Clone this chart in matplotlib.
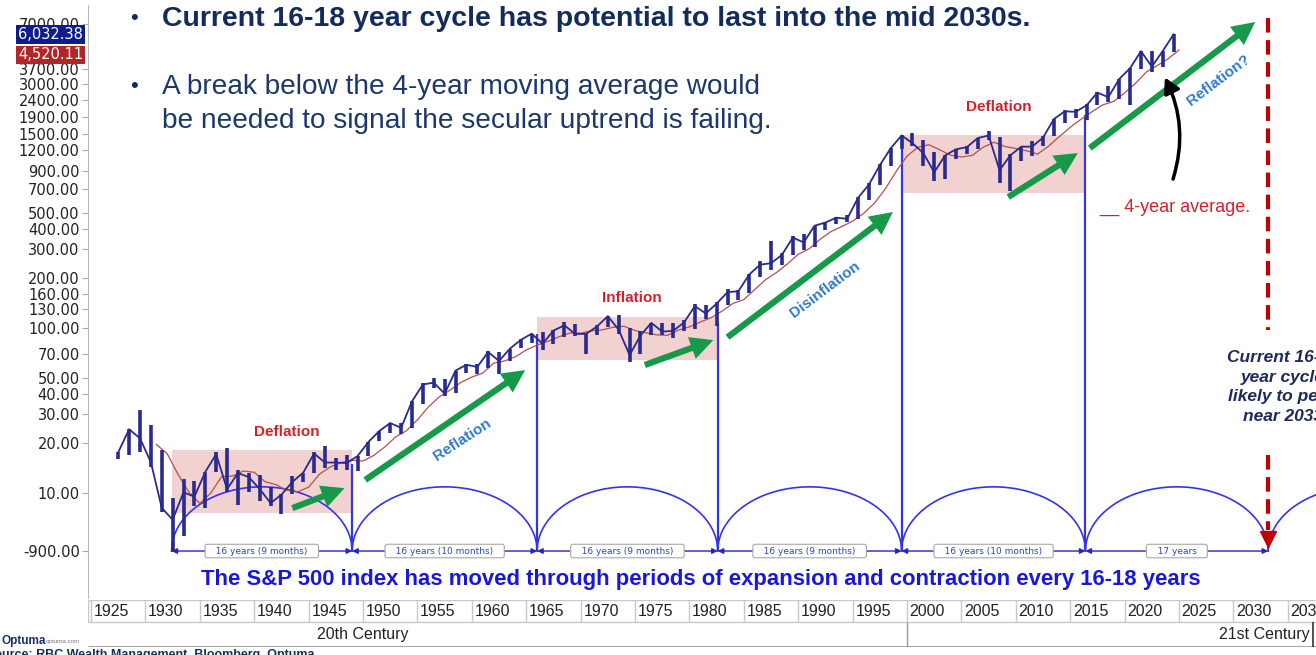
import numpy as np
import pandas as pd
import matplotlib
matplotlib.use("Agg")
import matplotlib.pyplot as plt
import matplotlib.transforms as mtransforms
from matplotlib.patches import Rectangle
from matplotlib.ticker import NullLocator, NullFormatter

# S&P 500 yearly high / low / close (1927 .. Nov 2024)
years = np.arange(1927, 2025)
high = [17.7, 24.4, 31.9, 25.9, 18.2, 9.3, 12.2, 11.8, 13.5, 17.7,
        18.7, 13.8, 13.2, 12.8, 10.9, 9.8, 12.6, 13.3, 17.7, 19.3,
        16.2, 17.1, 16.8, 20.4, 23.9, 26.6, 26.7, 36.0, 46.4, 49.7,
        49.1, 55.2, 60.7, 60.4, 72.6, 71.1, 75.0, 86.3, 92.6, 94.1,
        97.6, 108.4, 106.2, 93.5, 104.8, 119.1, 120.2, 99.8, 95.6, 107.8,
        107.0, 107.0, 111.3, 140.5, 138.1, 143.0, 172.7, 170.4, 212.0, 254.0,
        336.8, 283.7, 359.8, 369.0, 417.1, 441.3, 470.9, 482.0, 621.7, 757.0,
        983.8, 1241.8, 1469.3, 1527.5, 1373.7, 1172.5, 1111.9, 1213.5, 1272.7, 1427.1,
        1565.2, 1447.2, 1127.8, 1259.8, 1363.6, 1465.8, 1848.4, 2090.6, 2130.8, 2271.7,
        2690.2, 2930.8, 3240.0, 3756.1, 4793.1, 4796.6, 4783.4, 6049.0]
low = [16.0, 16.9, 17.7, 14.4, 7.7, 4.4, 5.5, 8.4, 8.1, 13.4,
       10.2, 8.5, 10.2, 9.0, 8.4, 7.5, 9.8, 11.6, 13.2, 14.1,
       13.7, 13.8, 13.6, 16.7, 20.7, 23.1, 22.7, 24.8, 34.6, 43.1,
       39.0, 40.3, 53.6, 52.3, 57.6, 52.3, 62.7, 75.4, 81.6, 73.2,
       80.4, 87.7, 89.2, 69.3, 90.2, 101.7, 92.2, 62.3, 70.0, 90.9,
       90.7, 86.9, 96.1, 98.2, 112.8, 102.4, 138.3, 147.8, 163.7, 203.5,
       223.9, 242.6, 275.3, 295.5, 311.5, 394.5, 429.1, 438.9, 459.1, 598.5,
       737.0, 957.3, 1212.2, 1264.7, 965.8, 776.8, 800.7, 1063.2, 1137.5, 1223.7,
       1374.1, 752.4, 676.5, 1022.6, 1099.2, 1277.1, 1457.2, 1741.9, 1867.6, 1829.1,
       2257.8, 2351.1, 2447.9, 2237.4, 3700.7, 3577.0, 3808.1, 4688.7]
close = [17.66, 24.35, 21.45, 15.34, 8.12, 6.89, 10.10, 9.50, 13.43, 17.18,
         10.55, 13.21, 12.49, 10.58, 8.69, 9.77, 11.67, 13.28, 17.36, 15.30,
         15.30, 15.20, 16.76, 20.41, 23.77, 26.57, 24.81, 35.98, 45.48, 46.67,
         39.99, 55.21, 59.89, 58.11, 71.55, 63.10, 75.02, 84.75, 92.43, 80.33,
         96.47, 103.86, 92.06, 92.15, 102.09, 118.05, 97.55, 68.56, 90.19, 107.46,
         95.10, 96.11, 107.94, 135.76, 122.55, 140.64, 164.93, 167.24, 211.28, 242.17,
         247.08, 277.72, 353.40, 330.22, 417.09, 435.71, 466.45, 459.27, 615.93, 740.74,
         970.43, 1229.23, 1469.25, 1320.28, 1148.08, 879.82, 1111.92, 1211.92, 1248.29, 1418.30,
         1468.36, 903.25, 1115.10, 1257.64, 1257.60, 1426.19, 1848.36, 2058.90, 2043.94, 2238.83,
         2673.61, 2506.85, 3230.78, 3756.07, 4766.18, 3839.50, 4769.83, 6032.38]

last_price = "6,032.38"
last_avg = "4,520.11"

# 16-18 year cycle lows/peaks
cycle_years = [1932.4, 1949.0, 1966.0, 1982.6, 1999.5, 2016.4, 2033.2]
cycle_tops = [4.45, 15.0, 92.0, 108.0, 1460.0, 1950.0]
cycle_labels = ["16 years (9 months)", "16 years (10 months)", "16 years (9 months)",
                "16 years (9 months)", "16 years (10 months)", "17 years"]

phase_start = [1932.4, 1966.0, 1999.5]
phase_end = [1949.0, 1982.6, 2016.4]
phase_low = [7.6, 64.0, 658.0]
phase_high = [18.2, 117.0, 1480.0]
phase_names = ["Deflation", "Inflation", "Deflation"]
phase_label_x = [1943.0, 1974.7, 2008.4]
phase_label_y = [23.4, 152.0, 2183.0]

ytick_vals = [7000, 3700, 3000, 2400, 1900, 1500, 1200, 900, 700, 500, 400, 300,
              200, 160, 130, 100, 70, 50, 40, 30, 20, 10, 4.45]
ytick_text = ["7000.00", "3700.00", "3000.00", "2400.00", "1900.00", "1500.00",
              "1200.00", "900.00", "700.00", "500.00", "400.00", "300.00", "200.00",
              "160.00", "130.00", "100.00", "70.00", "50.00", "40.00", "30.00",
              "20.00", "10.00", "-900.00"]
xtick_years = list(range(1925, 2040, 5))

W, H = 1316, 655
navy = "#2A2A8E"
green = "#17994A"
red_txt = "#D2232A"
blue_txt = "#2E7AD0"
cyc_blue = "#3434E8"

plt.rcParams["font.family"] = ["Liberation Sans", "DejaVu Sans"]

fig = plt.figure(figsize=(W / 100, H / 100), dpi=100)
ax = fig.add_axes([88 / W, 1 - 598 / H, 1228 / W, 593 / H])
ax.set_xlim(1924.72, 2037.59)
ax.set_yscale("log")
ax.set_ylim(2.31, 9080)

for s in ["top", "right", "bottom"]:
    ax.spines[s].set_visible(False)
ax.spines["left"].set_color("#BBBBBB")
ax.set_xticks([])
ax.set_yticks(ytick_vals)
ax.set_yticklabels(ytick_text)
ax.yaxis.set_minor_locator(NullLocator())
ax.yaxis.set_minor_formatter(NullFormatter())
ax.tick_params(axis="y", length=4, color="#AAAAAA", labelsize=10.5,
               labelcolor="#222222", pad=2)
for t in ax.get_yticklabels():
    t.set_family("DejaVu Sans")

# shaded phases
for x0, x1, lo, hi in zip(phase_start, phase_end, phase_low, phase_high):
    ax.add_patch(Rectangle((x0, lo), x1 - x0, hi - lo, facecolor="#E9ADAA",
                           alpha=0.55, edgecolor="none", zorder=1))
for lx, ly, name in zip(phase_label_x, phase_label_y, phase_names):
    ax.text(lx, ly, name, ha="center", va="center",
            fontsize=11, weight="bold", color=red_txt, zorder=5)

# price bars + 4-year average
yr = years + 0.5
ax.vlines(yr, low, high, color=navy, lw=2.6, zorder=4)
ax.plot(yr, close, color=navy, lw=1.3, zorder=4)
ma = pd.Series(close).rolling(4).mean()
ax.plot(years + 1, ma, color="#B0524A", lw=0.9, zorder=3)


# cycle arcs
def arc(x0, x1, base=4.45, peak=10.9):
    xs = np.linspace(x0, x1, 300)
    t = (xs - (x0 + x1) / 2) / ((x1 - x0) / 2)
    ly = np.log10(base) + (np.log10(peak) - np.log10(base)) * np.sqrt(np.clip(1 - t ** 2, 0, None))
    return xs, 10 ** ly


for x0, x1 in zip(cycle_years[:-1], cycle_years[1:]):
    xs, ys = arc(x0, x1)
    ax.plot(xs, ys, color=cyc_blue, lw=1.2, zorder=2)
xs, ys = arc(cycle_years[-1], cycle_years[-1] + 17)
ax.plot(xs, ys, color=cyc_blue, lw=1.2, zorder=2)

ax.vlines(cycle_years[1:6], 4.45, cycle_tops[1:], color=cyc_blue, lw=1.6, zorder=2)

for x0, x1, lab in zip(cycle_years[:-1], cycle_years[1:], cycle_labels):
    ax.annotate("", xy=(x1, 4.45), xytext=(x0, 4.45),
                arrowprops=dict(arrowstyle="<|-|>", color="#2626B8", lw=1.0,
                                mutation_scale=8, shrinkA=0, shrinkB=0), zorder=3)
    ax.text((x0 + x1) / 2, 4.45, "   " + lab + "   ", ha="center", va="center",
            fontsize=6.5, color="#3046B8", family="DejaVu Sans", zorder=4,
            bbox=dict(boxstyle="round,pad=0.25", fc="white", ec="#A8A8A8", lw=0.8))

# projected 2033 cycle end
ax.plot([cycle_years[-1]] * 2, [7570, 97], color="#C00000", lw=3, ls=(0, (3.5, 1.8)), zorder=3)
ax.plot([cycle_years[-1]] * 2, [17, 6.0], color="#C00000", lw=3, ls=(0, (3.5, 1.8)), zorder=3)
ax.plot(cycle_years[-1], 5.26, marker="v", ms=12, color="#C00000", zorder=5)

# green trend arrows
green_arrows = [((1943.5, 8.1), (1948.3, 10.7)), ((1950.2, 12.0), (1964.9, 55.6)),
                ((1975.9, 59.7), (1982.2, 84.5)), ((1983.5, 88.0), (1998.7, 505.0)),
                ((2009.3, 622.0), (2015.7, 1150.0)), ((2016.8, 1233.0), (2032.0, 7160.0))]
for (s, e) in green_arrows:
    ax.annotate("", xy=e, xytext=s,
                arrowprops=dict(arrowstyle="simple,head_length=1.1,head_width=1.1,tail_width=0.3",
                                mutation_scale=15, fc=green, ec="none", shrinkA=0, shrinkB=0),
                zorder=6)

ax.text(1959.1, 20.9, "Reflation", rotation=33, ha="center", va="center",
        fontsize=11, weight="bold", color=blue_txt, zorder=6)
ax.text(1992.5, 170, "Disinflation", rotation=37, ha="center", va="center",
        fontsize=11, weight="bold", color=blue_txt, zorder=6)
ax.text(2028.6, 3185, "Reflation?", rotation=37, ha="center", va="center",
        fontsize=11, weight="bold", color=blue_txt, zorder=6)

ax.text(2017.7, 541, "__ 4-year average.", ha="left", va="center", fontsize=13,
        color=red_txt, zorder=6)
ax.annotate("", xy=(2023.7, 3300), xytext=(2024.45, 800),
            arrowprops=dict(arrowstyle="-|>,head_length=0.9,head_width=0.5", color="black",
                            lw=2.5, connectionstyle="arc3,rad=0.2", shrinkA=0, shrinkB=0),
            zorder=7)

# value flags on the axis
flag = mtransforms.blended_transform_factory(ax.transAxes, ax.transData)
ax.text(-0.004, 6032.38, last_price, transform=flag, ha="right", va="center", fontsize=10.5,
        family="DejaVu Sans", color="white",
        bbox=dict(boxstyle="square,pad=0.12", fc="#101C8A", ec="none"), zorder=8)
ax.text(-0.004, 4520.11, last_avg, transform=flag, ha="right", va="center", fontsize=10.5,
        family="DejaVu Sans", color="white",
        bbox=dict(boxstyle="square,pad=0.12", fc="#B0262B", ec="none"), zorder=8)

# year table below the chart
tab = fig.add_axes([88 / W, 1 - 647 / H, 1228 / W, 47 / H])
tab.set_xlim(ax.get_xlim())
tab.set_ylim(47, 0)
tab.axis("off")
tab.hlines([0, 22], 1924.72, 2037.59, color="#C8C8C8", lw=1)
tab.hlines(47, 1924.72, 2037.59, color="#9A9A9A", lw=2)
tab.vlines(xtick_years, 0, 22, color="#C8C8C8", lw=1)
tab.vlines([1924.75], 0, 22, color="#C8C8C8", lw=1)
tab.vlines([2000], 22, 47, color="#999999", lw=1)
tab.vlines([2037.3], 22, 47, color="#333333", lw=1.2)
for y in xtick_years:
    tab.text(y + 0.25, 11.5, str(y), ha="left", va="center", fontsize=11.5, color="#222222",
             clip_on=True)
tab.text(1950, 34.5, "20th Century", ha="center", va="center", fontsize=11.5, color="#222222")
tab.text(2037.0, 34.5, "21st Century", ha="right", va="center", fontsize=11.5, color="#222222")

# slide text
title_col = "#142B5E"
fig.text(130 / W, 1 - 19 / H, "•", fontsize=16, color=title_col, va="center")
fig.text(162 / W, 1 - 19 / H, "Current 16-18 year cycle has potential to last into the mid 2030s.",
         fontsize=20.5, weight="bold", color=title_col, va="center",
         family=["Liberation Sans Narrow", "Liberation Sans"])
fig.text(130 / W, 1 - 87 / H, "•", fontsize=16, color=title_col, va="center")
fig.text(162 / W, 1 - 87 / H, "A break below the 4-year moving average would",
         fontsize=20.2, color="#1C3769", va="center")
fig.text(162 / W, 1 - 121 / H, "be needed to signal the secular uptrend is failing.",
         fontsize=20.2, color="#1C3769", va="center")

fig.text(701 / W, 1 - 580 / H,
         "The S&P 500 index has moved through periods of expansion and contraction every 16-18 years",
         ha="center", va="center", fontsize=15.9, weight="bold", color="#1818D8")

fig.text(1283 / W, 1 - 387 / H, "Current 16-18\nyear cycle\nlikely to peak\nnear 2033",
         ha="center", va="center", fontsize=12.5, weight="bold", style="italic",
         color="#1F2A5C", linespacing=1.38)

# footer
fig.text(2 / W, 1 - 641 / H, "Optuma", fontsize=8.5, weight="bold", color="#1B2F6B", va="center")
fig.text(46 / W, 1 - 641 / H, "optuma.com", fontsize=4.5, color="#777777", va="center")
fig.text(-14 / W, 1 - 649 / H, "Source: RBC Wealth Management, Bloomberg, Optuma",
         fontsize=9, weight="bold", color="#1F2D50", va="top")

fig.savefig("out.png", dpi=100)
